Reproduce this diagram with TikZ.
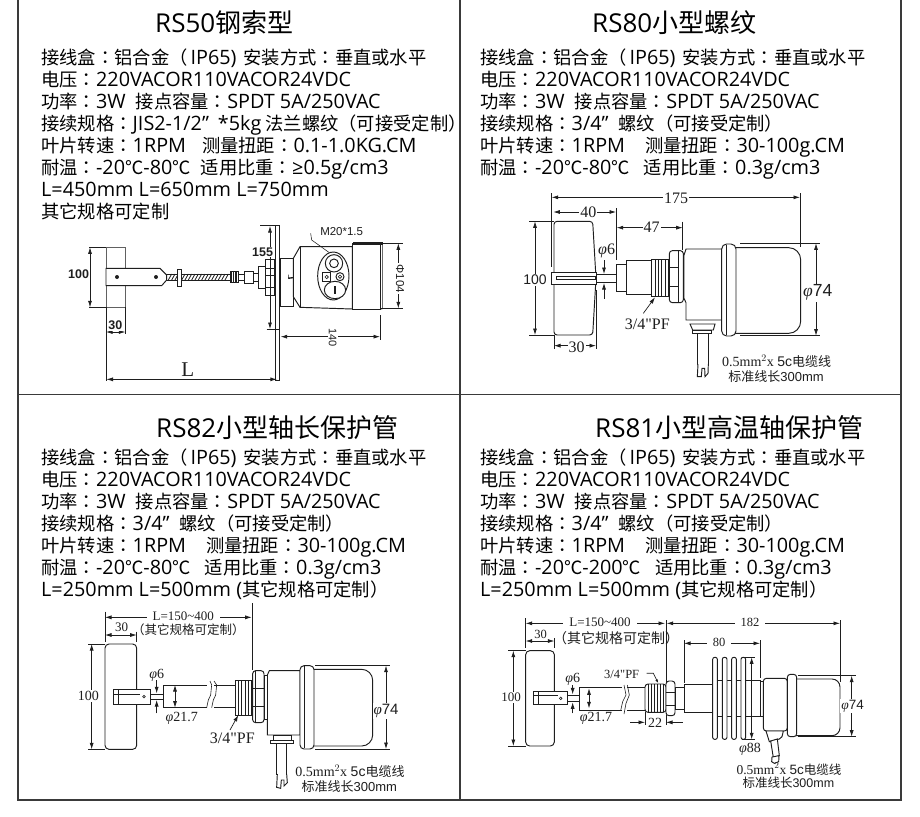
\documentclass[tikz,border=0pt]{standalone}
\usepackage{fontspec}
\usetikzlibrary{arrows.meta}
\setmainfont{Open Sans}
\newfontfamily\cjk{Noto Sans CJK SC}
\newfontfamily\cjp{Noto Sans CJK TC}
\newfontfamily\dimf{Liberation Serif}
\newfontfamily\arl{Liberation Sans}
\newcommand\zh[1]{{\cjk\fontsize{18.3}{20}\selectfont #1}}
\newcommand\zp[1]{{\cjp\fontsize{18.3}{20}\selectfont #1}}
\newcommand\zs[2]{{\cjk\fontsize{#1}{#1}\selectfont #2}}
\newcommand\phig{{\dimf\itshape φ}}
\newcommand\lineA{\zh{接线盒}\zp{：}\zh{铝合金}\zp{（}\hspace{3pt}IP65)\hspace{7pt}\zh{安装方式}\zp{：}\zh{垂直或水平}}
\newcommand\lineB{\zh{电压}\zp{：}220VACOR110VACOR24VDC}
\newcommand\lineC{\zh{功率}\zp{：}3W\hspace{10pt}\zh{接点容量}\zp{：}SPDT 5A/250VAC}
\newcommand\lineD{\zh{接续规格}\zp{：}3/4”\hspace{10pt}\zh{螺纹}\zp{（}\zh{可接受定制}\zp{）}}
\definecolor{ink}{HTML}{1E1E1E}
\definecolor{frameink}{HTML}{3A3A3A}
\tikzset{
  panel/.style={anchor=base west,inner sep=0pt,text=black,font=\fontsize{19.8}{21}\selectfont},
  ttl/.style={anchor=base west,inner sep=0pt,text=black,font=\fontsize{26}{28}\selectfont},
  dimt/.style={inner sep=1pt,fill=white,text=ink,font=\dimf\fontsize{14}{15}\selectfont},
  dimb/.style={inner sep=1pt,fill=white,text=ink,font=\arl\bfseries\fontsize{12.5}{13}\selectfont},
  note/.style={inner sep=0pt,text=ink,align=center},
  dl/.style={draw=ink,line width=.7pt,<->,>={Latex[length=6.5pt,width=4pt]}},
  al/.style={draw=ink,line width=.7pt,->,>={Latex[length=6.5pt,width=4pt]}},
  ext/.style={draw=ink,line width=.55pt},
  part/.style={draw=ink,line width=.95pt,fill=white},
  thin part/.style={draw=ink,line width=.6pt},
  draw1/.style={xshift=40pt,yshift=-200pt,x=.33333pt,y=-.33333pt},
  draw2/.style={xshift=500pt,yshift=-180pt,x=.33333pt,y=-.33333pt},
  draw3/.style={xshift=60pt,yshift=-600pt,x=.33333pt,y=-.33333pt},
  draw4/.style={xshift=490pt,yshift=-605pt,x=.33333pt,y=-.33333pt},
}
\begin{document}
\begin{tikzpicture}[x=1pt,y=-1pt]
\useasboundingbox (0,0) rectangle (920,816);
\fill[white] (0,0) rectangle (920,816);
% frame
\draw[frameink,line width=1.1pt] (18,0) -- (18,800) -- (901,800) -- (901,0);
\draw[frameink,line width=1.1pt] (460,0) -- (460,800);
\draw[frameink,line width=1.1pt] (18,394.5) -- (901,394.5);
% titles
\node[ttl] (t1) at (155,33) {RS50\zs{26}{钢索型}};
\node[ttl] (t2) at (592,33) {RS80\zs{26}{小型螺纹}};
\node[ttl] (t3) at (156,437) {RS82\zs{26}{小型轴长保护管}};
\node[ttl] (t4) at (595,437) {RS81\zs{26}{小型高温轴保护管}};
% panel 1
\node[panel] (a1) at (41,64) {\lineA};
\node[panel] (a2) at (41,86) {\lineB};
\node[panel] (a3) at (41,108) {\lineC};
\node[panel] (a4) at (41,130) {\zh{接续规格}\zp{：}JIS2-1/2”\hspace{9pt}*5kg\hspace{4pt}\zh{法兰螺纹}\zp{（}\zh{可接受定制}\zp{）}};
\node[panel] (a5) at (41,152) {\zh{叶片转速}\zp{：}1RPM\hspace{16pt}\zh{测量扭距}\zp{：}0.1-1.0KG.CM};
\node[panel] (a6) at (41,174) {\zh{耐温}\zp{：}-20\zh{℃}-80\zh{℃}\hspace{10pt}\zh{适用比重}\zp{：}≥0.5g/cm3};
\node[panel] (a7) at (41,196) {L=450mm L=650mm L=750mm};
\node[panel] (a8) at (41,218) {\zh{其它规格可定制}};
% panel 2
\node[panel] (b1) at (480,64) {\lineA};
\node[panel] (b2) at (480,86) {\lineB};
\node[panel] (b3) at (480,108) {\lineC};
\node[panel] (b4) at (480,130) {\lineD};
\node[panel] (b5) at (480,152) {\zh{叶片转速}\zp{：}1RPM\hspace{20pt}\zh{测量扭距}\zp{：}30-100g.CM};
\node[panel] (b6) at (480,174) {\zh{耐温}\zp{：}-20\zh{℃}-80\zh{℃}\hspace{14pt}\zh{适用比重}\zp{：}0.3g/cm3};
% panel 3
\node[panel] (c1) at (41,464) {\lineA};
\node[panel] (c2) at (41,486) {\lineB};
\node[panel] (c3) at (41,508) {\lineC};
\node[panel] (c4) at (41,530) {\lineD};
\node[panel] (c5) at (41,552) {\zh{叶片转速}\zp{：}1RPM\hspace{20pt}\zh{测量扭距}\zp{：}30-100g.CM};
\node[panel] (c6) at (41,574) {\zh{耐温}\zp{：}-20\zh{℃}-80\zh{℃}\hspace{14pt}\zh{适用比重}\zp{：}0.3g/cm3};
\node[panel] (c7) at (41,596) {L=250mm L=500mm (\zh{其它规格可定制}\zp{）}};
% panel 4
\node[panel] (d1) at (480,464) {\lineA};
\node[panel] (d2) at (480,486) {\lineB};
\node[panel] (d3) at (480,508) {\lineC};
\node[panel] (d4) at (480,530) {\lineD};
\node[panel] (d5) at (480,552) {\zh{叶片转速}\zp{：}1RPM\hspace{20pt}\zh{测量扭距}\zp{：}30-100g.CM};
\node[panel] (d6) at (480,574) {\zh{耐温}\zp{：}-20\zh{℃}-200\zh{℃}\hspace{14pt}\zh{适用比重}\zp{：}0.3g/cm3};
\node[panel] (d7) at (480,596) {L=250mm L=500mm (\zh{其它规格可定制}\zp{）}};

% ===== drawing 1
\begin{scope}[draw1]
\draw[part,draw=ink!70] (198,142) rectangle (256,322);
\draw[ext] (148,142)--(198,142) (148,322)--(198,322);
\draw[dl] (150,142)--(150,322);
\node[dimb] (n100a) at (116,222) {100};
\draw[ext] (198,322)--(198,542) (256,322)--(256,402);
\draw[dl] (198,396)--(256,396);
\node[dimb] (n30a) at (226,377) {30};
\draw[part] (198,205)--(360,205)--(380,225)--(380,240)--(365,257)--(198,257)--cycle;
\fill[ink] (231,231) circle (6) (348,231) circle (6);
\draw[thin part] (380,222) rectangle (570,240);
\foreach \x in {385,395,...,560} \draw[ink,line width=.8pt] (\x,240)--(\x+10,222);
\draw[part] (412,208) rectangle (425,258);
\draw[part] (570,215) rectangle (595,247);
\draw[part] (595,222) rectangle (612,240);
\draw[part] (612,213) rectangle (640,250);
\draw[part] (640,220) rectangle (658,243);
\foreach \x in {575,580,...,590} \draw[ink] (\x,215)--(\x,247);
\draw[part] (656,198) rectangle (675,265);
\draw[part] (675,178) rectangle (703,286);
\draw[thin part] (675,205)--(703,205) (675,225)--(703,225) (675,262)--(703,262);
\draw[part] (707,75) rectangle (718,540);
\draw[ext] (660,75)--(707,75) (680,387)--(718,387);
\draw[dl] (690,78)--(690,387);
\node[dimb] (n155) at (668,156) {155};
\draw[part] (720,175) rectangle (760,318);
\draw[ink,line width=.6pt] (745,224)--(745,236)--(772,232)--(745,232);
\draw[part] (760,175)--(780,140)--(937,140)--(937,327)--(780,322)--(760,290)--cycle;
\draw[thin part] (780,140)--(780,322);
\draw[part] (937,130) rectangle (1020,328);
\fill[ink] (938,127) rectangle (1028,134);
\draw[thin part] (1020,134)--(1028,134)--(1028,326)--(1020,328);
\draw[ext] (1020,130)--(1090,130) (1020,325)--(1090,325);
\draw[dl] (1075,130)--(1075,325);
\node[dimb,font=\arl\fontsize{11.5}{12}\selectfont,rotate=-90] (nd104) at (1080,236) {Φ104};
\draw[part] (880,228) ellipse [x radius=47,y radius=72];
\draw[part] (882,190) circle (26);
\draw[part] (882,190) circle (13);
\draw[part] (848,218) rectangle (872,243);
\draw[thin part] (860,231) circle (5);
\draw[part] (900,230) circle (12);
\draw[thin part] (900,230) circle (5);
\draw[part] (885,270) ellipse [x radius=32,y radius=26];
\fill[ink] (882,258) rectangle (887,283);
\draw[ext] (812,100)--(815,120)--(868,158);
\node[note,font=\arl\fontsize{11.5}{12}\selectfont] (nm20) at (905,96) {M20*1.5};
\draw[ext] (1020,345)--(1020,420);
\draw[dl] (722,410)--(1020,410);
\node[dimt,font=\arl\fontsize{11}{11}\selectfont,rotate=-90] (n140) at (878,413) {140};
\draw[ink,line width=1pt,<->,>={Latex[length=7pt,width=4pt]}] (198,538)--(712,538);
\node[note,font=\dimf\fontsize{21}{21}\selectfont] (nL) at (443,508) {L};
\end{scope}

% ===== drawing 2
\begin{scope}[draw2]
\draw[ext] (155,40)--(155,262) (900,40)--(900,202);
\draw[dl] (155,52)--(900,52);
\node[dimt,font=\dimf\fontsize{16}{16}\selectfont] (n175) at (528,55) {175};
\draw[ext] (348,85)--(348,240);
\draw[dl] (160,96)--(348,96);
\node[dimt,font=\dimf\fontsize{16}{16}\selectfont] (n40) at (265,96) {40};
\draw[ext] (548,125)--(548,210);
\draw[dl] (350,143)--(548,143);
\node[dimt,font=\dimf\fontsize{16}{16}\selectfont] (n47) at (455,141) {47};
\draw[part,rounded corners=3pt] (162,124)--(278,124)--(288,295)--(278,465)--(162,465)--cycle;
\draw[part] (155,278) rectangle (290,312);
\draw[thin part] (168,290) rectangle (285,298);
\draw[part] (290,282) rectangle (348,308);
\node[note,font=\dimf\fontsize{16}{16}\selectfont] (nphi6b) at (320,213) {\phig 6};
\draw[al] (312,240)--(312,282);
\draw[al] (312,356)--(312,309);
\draw[ext] (88,124)--(162,124) (88,465)--(162,465);
\draw[dl] (105,124)--(105,465);
\node[dimt,font=\arl\fontsize{14}{14}\selectfont] (n100b) at (105,300) {100};
\draw[ext] (162,465)--(162,506) (288,330)--(288,506);
\draw[dl] (162,497)--(288,497);
\node[dimt,font=\dimf\fontsize{16}{16}\selectfont] (n30b) at (230,503) {30};
\draw[part] (348,252) rectangle (380,335);
\draw[part] (380,240) rectangle (455,342);
\draw[part] (455,238) rectangle (508,350);
\foreach \x in {465,475,...,505} \draw[thin part] (\x,238)--(\x,350);
\draw[part] (552,225)--(558,207)--(665,207)--(665,420)--(558,420)--(558,368)--(552,355)--cycle;
\draw[part,rounded corners=3pt] (508,212) rectangle (550,368);
\draw[thin part] (508,262)--(535,262) (508,318)--(535,318) (535,212)--(535,368);
\draw[part] (570,432)--(645,432)--(640,450)--(578,450)--cycle;
\draw[part] (592,458) rectangle (625,552);
\draw[part] (578,450) rectangle (635,460);
\draw[part] (594,552)--(592,590)--(604,590)--(606,565)--(614,565)--(615,590)--(624,580)--(625,552);
\draw[part,rounded corners=12pt] (700,203)--(902,203)--(902,460)--(700,460);
\draw[part,rounded corners=5pt] (665,192) rectangle (708,468);
\draw[thin part] (678,195)--(678,465);
\draw[ext] (720,190)--(960,190) (720,467)--(960,467);
\draw[dl] (948,190)--(948,467);
\node[dimt,font=\arl\fontsize{17.5}{18}\selectfont] (nphi74b) at (953,338) {\phig 74};
\node[note,font=\dimf\fontsize{16}{16}\selectfont] (npfb) at (442,432) {3/4"PF};
\draw[al] (430,400)--(465,352);
\node[note,font=\dimf\fontsize{14}{14}\selectfont] (ncb1) at (830,543) {0.5mm$^2$x {\arl 5c}\zs{13}{电缆线}};
\node[note,font=\arl\fontsize{13}{14}\selectfont] (ncb2) at (828,589) {\zs{13}{标准线长}300mm};
\end{scope}

% ===== drawing 3
\begin{scope}[draw3]
\draw[ext] (135,35)--(135,125) (578,10)--(578,210);
\draw[dl] (135,52)--(575,52);
\node[dimt,font=\dimf\fontsize{13}{13}\selectfont,inner xsep=6pt] (nLc) at (370,50) {L=150\textasciitilde 400};
\draw[ext] (230,95)--(230,125);
\draw[dl] (135,105)--(230,105);
\node[note,font=\dimf\fontsize{13}{13}\selectfont] (n30c) at (185,82) {30};
\node[note] (nzc) at (385,90) {\zs{12.5}{（其它规格可定制）}};
\draw[part,rounded corners=4pt] (135,132) rectangle (230,448);
\draw[ext] (85,132)--(135,132) (85,448)--(135,448);
\draw[dl] (95,132)--(95,448);
\node[dimt,font=\dimf\fontsize{14}{14}\selectfont] (n100c) at (85,288) {100};
\draw[part] (160,267) rectangle (272,313);
\draw[thin part] (160,283)--(240,283) (175,267)--(175,313);
\draw[thin part] (252,290) circle (4);
\draw[part] (272,282) rectangle (310,298);
\node[note,font=\dimf\fontsize{14}{14}\selectfont] (nphi6c) at (290,225) {\phig 6};
\draw[al] (290,240)--(290,280);
\draw[al] (290,340)--(290,300);
\draw[part] (310,255)--(525,255)--(525,323)--(310,323)--cycle;
\fill[white] (442,250) rectangle (462,328);
\draw[thin part] (440,323)--(445,300)--(452,285)--(455,255)--(450,243) (455,323)--(460,300)--(467,285)--(470,255)--(462,243);
\draw[dl] (345,255)--(345,323);
\node[note,font=\dimf\fontsize{14}{14}\selectfont] (nphi217c) at (365,355) {\phig 21.7};
\draw[part] (525,240) rectangle (575,345);
\foreach \x in {535,545,...,565} \draw[thin part] (\x,240)--(\x,345);
\draw[part] (622,225)--(628,212)--(720,212)--(720,405)--(622,405)--(622,355)--cycle;
\draw[part,rounded corners=3pt] (578,212) rectangle (612,368);
\draw[thin part] (585,212)--(585,368) (578,265)--(612,265) (578,320)--(612,320);
\draw[part] (612,225) rectangle (622,358);
\draw[part,rounded corners=11pt] (750,208)--(938,208)--(938,438)--(750,438);
\draw[part,rounded corners=4pt] (720,197) rectangle (762,447);
\draw[thin part] (732,199)--(732,445);
\draw[ext] (765,197)--(990,197) (765,447)--(990,447);
\draw[dl] (978,197)--(978,447);
\node[dimt,font=\arl\fontsize{15}{15}\selectfont] (nphi74c) at (978,333) {\phig 74};
\node[note,font=\dimf\fontsize{16}{16}\selectfont] (npfc) at (517,415) {3/4"PF};
\draw[al] (510,390)--(535,345);
\draw[part] (640,405) rectangle (695,420);
\draw[part] (632,420) rectangle (700,430);
\draw[part] (650,430) rectangle (680,522);
\draw[part] (652,522)--(650,562)--(662,565)--(664,540)--(672,540)--(672,558)--(682,548)--(680,522);
\node[note,font=\dimf\fontsize{14}{14}\selectfont] (ncc1) at (870,515) {0.5mm$^2$x {\arl 5c}\zs{13}{电缆线}};
\node[note,font=\arl\fontsize{13}{14}\selectfont] (ncc2) at (868,559) {\zs{13}{标准线长}300mm};
\end{scope}

% ===== drawing 4
\begin{scope}[draw4]
\draw[ext] (107,40)--(107,130) (530,45)--(530,230) (1050,45)--(1050,230);
\draw[dl] (107,55)--(525,55);
\node[dimt,font=\dimf\fontsize{13}{13}\selectfont,inner xsep=6pt] (nLd) at (330,52) {L=150\textasciitilde 400};
\draw[dl] (530,55)--(1050,55);
\node[dimt,font=\dimf\fontsize{12.5}{13}\selectfont,inner xsep=6pt] (n182) at (780,52) {182};
\draw[ext] (193,100)--(193,130);
\draw[dl] (107,108)--(193,108);
\node[note,font=\dimf\fontsize{12.5}{13}\selectfont] (n30d) at (152,88) {30};
\node[note] (nzd) at (378,100) {\zs{14}{（其它规格可定制）}};
\draw[part,rounded corners=4pt] (107,137) rectangle (193,423);
\draw[ext] (55,137)--(107,137) (55,423)--(107,423);
\draw[dl] (70,137)--(70,423);
\node[dimt,font=\dimf\fontsize{13}{13}\selectfont] (n100d) at (63,278) {100};
\draw[part] (130,258) rectangle (232,297);
\draw[thin part] (130,272)--(205,272) (145,258)--(145,297);
\draw[thin part] (212,280) circle (4);
\draw[part] (232,270) rectangle (268,290);
\node[note,font=\dimf\fontsize{14}{14}\selectfont] (nphi6d) at (248,222) {\phig 6};
\draw[al] (248,240)--(248,268);
\draw[al] (248,325)--(248,292);
\draw[part] (268,248)--(465,248)--(465,317)--(268,317)--cycle;
\fill[white] (395,243) rectangle (410,322);
\draw[thin part] (392,317)--(398,290)--(408,270)--(402,240) (402,327)--(408,295)--(418,270)--(412,240);
\draw[dl] (297,250)--(297,310);
\node[note,font=\dimf\fontsize{14}{14}\selectfont] (nphi217d) at (318,340) {\phig 21.7};
\node[note,font=\dimf\fontsize{12.5}{13}\selectfont] (npfd) at (395,207) {3/4"PF};
\draw[al,>={Latex[length=4pt,width=2.5pt]}] (470,205)--(490,205)--(505,235);
\draw[part,rounded corners=3pt] (465,237) rectangle (528,322);
\foreach \x in {475,484,...,520} \draw[thin part] (\x,237)--(\x,322);
\draw[part,rounded corners=3pt] (528,228) rectangle (555,332);
\draw[thin part] (528,262)--(555,262) (528,300)--(555,300);
\draw[part] (555,248) rectangle (582,312);
\draw[part] (582,237)--(668,237)--(668,322)--(582,322)--cycle;
\draw[part] (668,225) rectangle (810,335);
\foreach \x in {668,697,725,753} \draw[part,rounded corners=2pt] (\x,157) rectangle (\x+14,403);
\draw[ext] (582,105)--(582,235) (810,105)--(810,220);
\draw[dl] (582,115)--(810,115);
\node[dimt,font=\dimf\fontsize{12.5}{13}\selectfont,inner xsep=6pt] (n80) at (687,113) {80};
\draw[ext] (755,157)--(795,157) (755,403)--(795,403);
\draw[dl] (785,157)--(785,403);
\node[note,font=\dimf\fontsize{14}{14}\selectfont] (nphi88) at (780,432) {\phig 88};
\draw[part] (810,228) rectangle (820,335);
\draw[part,rounded corners=3pt] (820,220) rectangle (892,378);
\draw[part,rounded corners=8pt] (910,222)--(1050,222)--(1050,392)--(910,392);
\draw[part,rounded corners=3pt] (892,208) rectangle (920,395);
\draw[ext] (925,212)--(1098,212) (925,395)--(1098,395);
\draw[dl] (1085,212)--(1085,395);
\node[dimt,font=\arl\fontsize{13.5}{14}\selectfont] (nphi74d) at (1088,303) {\phig 74};
\draw[ext] (465,320)--(465,360) (528,330)--(528,360);
\draw[al] (420,352)--(465,352);
\draw[al] (578,352)--(528,352);
\node[note,font=\dimf\fontsize{14}{14}\selectfont] (n22) at (495,355) {22};
\draw[part] (828,378)--(880,378)--(876,395)--(868,402)--(838,410)--cycle;
\draw[part] (842,408)--(862,402)--(868,452)--(850,458)--cycle;
\draw[part] (846,456)--(845,470)--(853,475)--(866,470)--(867,452)--cycle;
\node[note,font=\dimf\fontsize{13.5}{14}\selectfont] (ncd1) at (897,492) {0.5mm$^2$x {\arl 5c}\zs{12.5}{电缆线}};
\node[note,font=\arl\fontsize{12.5}{13}\selectfont] (ncd2) at (895,534) {\zs{12.5}{标准线长}300mm};
\end{scope}
\end{tikzpicture}
\end{document}
